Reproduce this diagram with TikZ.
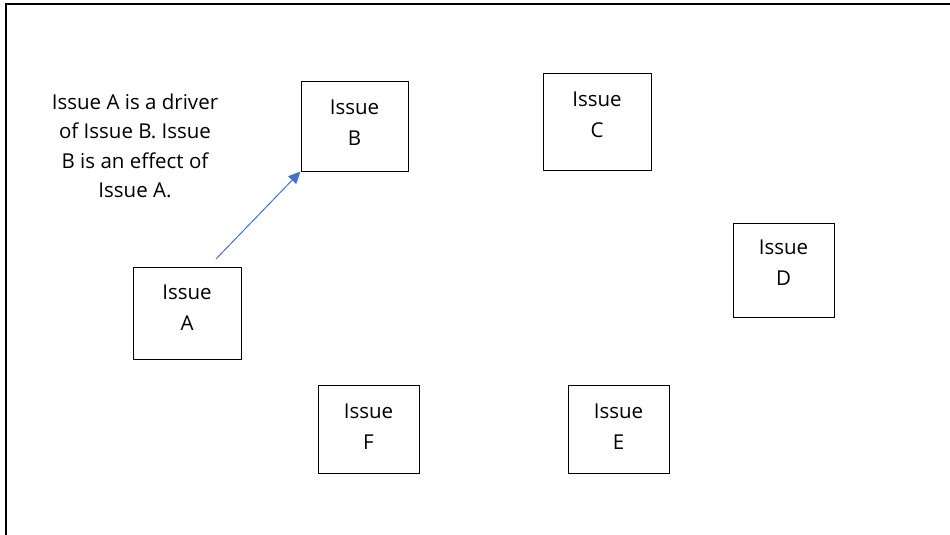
\documentclass[tikz,border=0pt]{standalone}
\usepackage{fontspec}
\setmainfont{Open Sans}
\usetikzlibrary{arrows.meta,fit}
\definecolor{arrowblue}{HTML}{4472C4}
\begin{document}
\begin{tikzpicture}[x=1pt,y=-1pt,
  issuebox/.style={draw=black, line width=1pt, inner sep=0pt},
  issuetext/.style={align=center, inner sep=0pt, font=\fontsize{20.5}{31}\selectfont},
  notetext/.style={align=center, inner sep=0pt, font=\fontsize{20.5}{29.5}\selectfont},
  frameline/.style={draw=black, line width=1.5pt}]
\useasboundingbox (0,0) rectangle (950,535);
% frame
\coordinate (fbl) at (6,535);
\coordinate (ftl) at (6,4);
\coordinate (ftr) at (950,4);
\draw[frameline] (fbl) -- (ftl) -- (ftr);
% boxes
\node (bA) [issuebox, fit={(133,267) (241,359)}] {};
\node (bB) [issuebox, fit={(301,81) (408,171)}] {};
\node (bC) [issuebox, fit={(543,73) (651,170)}] {};
\node (bD) [issuebox, fit={(733,223) (834,317)}] {};
\node (bE) [issuebox, fit={(568,385) (669,473)}] {};
\node (bF) [issuebox, fit={(318,385) (419,473)}] {};
% texts
\node (tA) [issuetext] at (187,307.5) {Issue\\A};
\node (tB) [issuetext] at (354.5,123) {Issue\\B};
\node (tC) [issuetext] at (597,114.5) {Issue\\C};
\node (tD) [issuetext] at (783.5,263) {Issue\\D};
\node (tE) [issuetext] at (618.5,427) {Issue\\E};
\node (tF) [issuetext] at (368.5,427) {Issue\\F};
\node (note) [notetext] at (135,146) {Issue A is a driver\\of Issue B. Issue\\B is an effect of\\Issue A.};
% arrow
\coordinate (aStart) at (216,259);
\draw[arrowblue, line width=1pt, -{Triangle[length=12pt,width=11pt]}] (aStart) -- (bB.south west);
\end{tikzpicture}
\end{document}
